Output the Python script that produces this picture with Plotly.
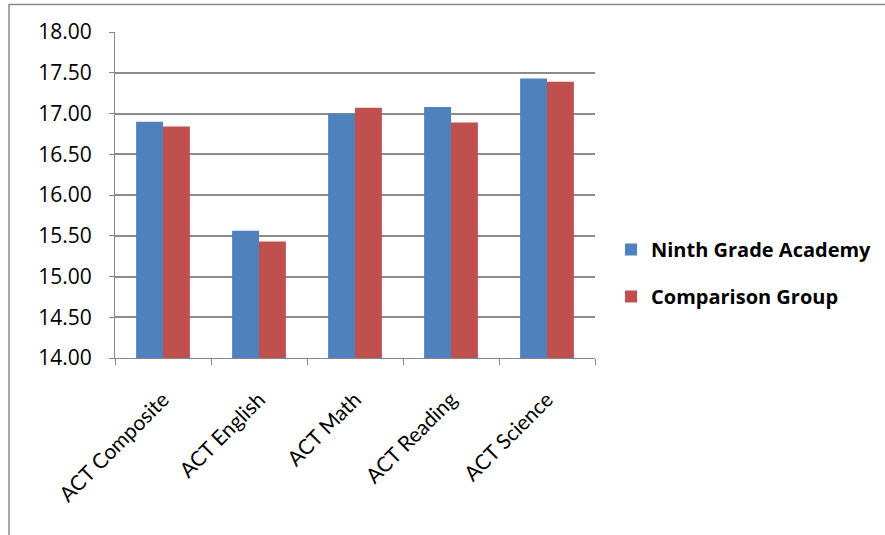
import plotly.graph_objects as go

categories = ["ACT Composite", "ACT English", "ACT Math", "ACT Reading", "ACT Science"]
ninth_grade = [16.90, 15.56, 17.00, 17.08, 17.43]
comparison = [16.84, 15.43, 17.07, 16.89, 17.39]
y_ticks = [14.0, 14.5, 15.0, 15.5, 16.0, 16.5, 17.0, 17.5, 18.0]

W, H = 885, 535
L, R, T, B = 115, 290, 32, 177
pw, ph = W - L - R, H - T - B

fig = go.Figure()
fig.add_trace(go.Bar(x=categories, y=ninth_grade, name="Ninth Grade Academy",
                     marker=dict(color="#4F81BD", line=dict(width=0)), legendgroup="a"))
fig.add_trace(go.Bar(x=categories, y=comparison, name="Comparison Group",
                     marker=dict(color="#C0504D", line=dict(width=0)), legendgroup="b"))

def px_x(p):
    return (p - L) / pw

def px_y(p):
    return (H - B - p) / ph

fig.update_layout(
    width=W, height=H,
    margin=dict(l=L, r=R, t=T, b=B, autoexpand=False),
    paper_bgcolor="white", plot_bgcolor="white",
    barmode="group", bargap=0.44, bargroupgap=0,
    font=dict(family="Lato, Arial, sans-serif", color="#000000"),
    xaxis=dict(
        type="category", tickangle=-45, tickson="boundaries",
        ticks="outside", ticklen=6, tickcolor="#868686",
        showline=True, linecolor="#868686", linewidth=1,
        showgrid=False, tickfont=dict(size=21, family="Lato, Arial, sans-serif"),
        ticklabelshift=0, ticklabelstandoff=20, automargin=False,
    ),
    yaxis=dict(
        range=[14, 18], tickvals=y_ticks, tickformat=".2f",
        ticks="outside", ticklen=5, tickcolor="#868686",
        showline=True, linecolor="#868686", linewidth=1,
        showgrid=True, gridcolor="#8c8c8c", gridwidth=1.5,
        zeroline=False, ticklabelstandoff=13, automargin=False,
        tickfont=dict(size=21, family="Open Sans, Arial, sans-serif"),
    ),
    legend=dict(
        x=px_x(611), y=px_y(230), xanchor="left", yanchor="top",
        font=dict(size=20, family="Open Sans, Arial, sans-serif", weight="bold"),
        tracegroupgap=18, bgcolor="rgba(0,0,0,0)",
    ),
    shapes=[dict(type="rect", xref="paper", yref="paper",
                 x0=px_x(9), x1=px_x(900), y0=px_y(560), y1=px_y(4.5),
                 line=dict(color="#8a8a8a", width=1.5), fillcolor="rgba(0,0,0,0)",
                 layer="below")],
)

fig.write_html("out.html")
